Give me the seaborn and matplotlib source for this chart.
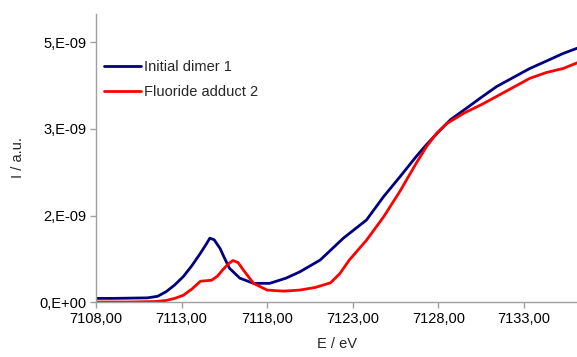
import numpy as np
import pandas as pd
import matplotlib
matplotlib.use("Agg")
import matplotlib.pyplot as plt
import seaborn as sns
from matplotlib.ticker import FuncFormatter

# ================= DATA =================

dimer_E = [7108.0, 7109.0, 7110.0, 7111.0, 7111.6, 7112.1, 7112.6, 7113.1, 7113.6,
           7114.1, 7114.45, 7114.65, 7114.9, 7115.25, 7115.5, 7115.8, 7116.4, 7117.2,
           7118.15, 7119.1, 7119.9, 7121.1, 7122.45, 7123.8, 7124.8, 7125.75, 7126.7,
           7127.3, 7128.1, 7128.7, 7129.5, 7130.5, 7131.4, 7132.4, 7133.35, 7134.3,
           7135.3, 7136.2]
dimer_I = [0.07, 0.07, 0.075, 0.08, 0.11, 0.20, 0.33, 0.49, 0.70,
           0.94, 1.12, 1.23, 1.20, 1.03, 0.85, 0.65, 0.46, 0.36,
           0.36, 0.46, 0.58, 0.81, 1.23, 1.58, 2.03, 2.41, 2.80,
           3.03, 3.31, 3.51, 3.70, 3.94, 4.15, 4.33, 4.50, 4.64,
           4.79, 4.90]

adduct_E = [7108.0, 7110.0, 7111.5, 7112.1, 7112.6, 7113.1, 7113.6, 7114.1, 7114.75,
            7115.1, 7115.4, 7115.75, 7116.0, 7116.3, 7116.6, 7117.2, 7118.0, 7118.95,
            7119.9, 7120.8, 7121.7, 7122.25, 7122.8, 7123.8, 7124.8, 7125.75, 7126.7,
            7127.3, 7127.9, 7128.5, 7129.5, 7130.5, 7131.4, 7132.4, 7133.35, 7134.3,
            7135.3, 7136.2]
adduct_I = [0.0, 0.0, 0.01, 0.03, 0.07, 0.13, 0.25, 0.40, 0.42,
            0.50, 0.62, 0.74, 0.80, 0.76, 0.62, 0.36, 0.23, 0.21,
            0.23, 0.28, 0.37, 0.55, 0.81, 1.19, 1.64, 2.13, 2.67,
            2.99, 3.25, 3.44, 3.64, 3.80, 3.96, 4.14, 4.31, 4.42,
            4.50, 4.62]

series_names = ["Initial dimer 1", "Fluoride adduct 2"]
series_colors = ["#000080", "#FF0000"]

y_ticks = [0.0, 5e-9 / 3, 10e-9 / 3, 5e-9]
x_ticks = [7108, 7113, 7118, 7123, 7128, 7133]

# ================= BUILD TABLE =================

df = pd.concat([
    pd.DataFrame({"E": dimer_E, "I": np.array(dimer_I) * 1e-9, "series": series_names[0]}),
    pd.DataFrame({"E": adduct_E, "I": np.array(adduct_I) * 1e-9, "series": series_names[1]}),
])

# ================= PLOT =================

sns.set_style("white")
plt.rcParams["font.family"] = ["Liberation Sans", "DejaVu Sans"]

fig = plt.figure(figsize=(5.77, 3.57), dpi=100)
ax = fig.add_axes([0.1664, 0.154, 0.8336, 0.807])

sns.lineplot(data=df, x="E", y="I", hue="series", palette=series_colors,
             sort=False, linewidth=2, ax=ax, legend=True)

ax.set_xlim(7108, 7136.1)
ax.set_ylim(0, 5.55e-9)
ax.set_xticks(x_ticks)
ax.set_yticks(y_ticks)
ax.xaxis.set_major_formatter(FuncFormatter(lambda v, p: f"{v:.2f}".replace(".", ",")))
ax.yaxis.set_major_formatter(FuncFormatter(lambda v, p: f"{v:.0E}".replace("E", ",E")))

for side in ["top", "right"]:
    ax.spines[side].set_visible(False)
for side in ["left", "bottom"]:
    ax.spines[side].set_color("#a0a0a0")
    ax.spines[side].set_linewidth(1)

ax.tick_params(axis="both", direction="out", length=4, width=1, color="#a0a0a0",
               labelsize=10.5, labelcolor="black", pad=3)
ax.tick_params(axis="x", bottom=True)
ax.tick_params(axis="y", left=True)

ax.set_xlabel("E / eV", fontsize=10.5, labelpad=8)
ax.set_ylabel("I / a.u.", fontsize=10.5, labelpad=10)

leg = ax.legend(loc="upper left", bbox_to_anchor=(-0.01, 0.885), frameon=False,
                fontsize=10.5, handlelength=2.5, handletextpad=0.25, labelspacing=0.75)
leg.set_title(None)

fig.savefig("out.png", dpi=100)
